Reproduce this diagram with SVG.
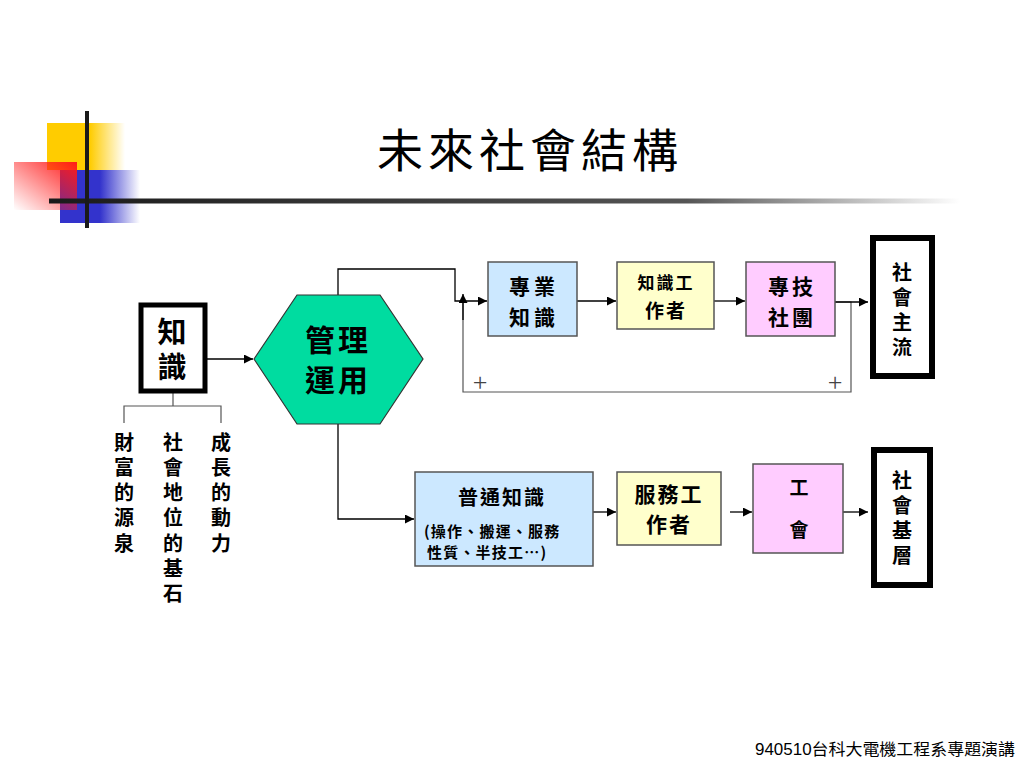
<svg xmlns="http://www.w3.org/2000/svg" width="1024" height="768" viewBox="0 0 1024 768">
<defs>
<linearGradient id="gy" x1="0" y1="0" x2="1" y2="0"><stop offset="0.55" stop-color="#FFCC00"/><stop offset="1" stop-color="#FFCC00" stop-opacity="0"/></linearGradient>
<linearGradient id="gb" x1="0" y1="0" x2="1" y2="0"><stop offset="0.5" stop-color="#3333CC"/><stop offset="1" stop-color="#3333CC" stop-opacity="0"/></linearGradient>
<linearGradient id="gr" x1="1" y1="0" x2="0" y2="1"><stop offset="0" stop-color="#FF1A1A"/><stop offset="1" stop-color="#FF1A1A" stop-opacity="0"/></linearGradient>
<linearGradient id="gl" x1="0" y1="0" x2="1" y2="0"><stop offset="0" stop-color="#1A1A1A"/><stop offset="0.7" stop-color="#555"/><stop offset="1" stop-color="#FFFFFF"/></linearGradient>
<marker id="ah" viewBox="0 0 10 10" refX="10" refY="5" markerWidth="9" markerHeight="9" markerUnits="userSpaceOnUse" orient="auto"><path d="M0,0 L10,5 L0,10 z" fill="#000"/></marker>
<style>
.cj{font-family:"Noto Sans CJK TC","Noto Sans CJK SC",sans-serif;font-weight:bold;fill:#000;text-anchor:middle}
.vt{font-family:"Noto Sans CJK TC","Noto Sans CJK SC",sans-serif;font-weight:bold;fill:#000;writing-mode:vertical-rl;text-anchor:start}
.box{stroke:#555;stroke-width:1.5}
.thick{fill:#fff;stroke:#000;stroke-width:6}
.ln{fill:none;stroke:#000;stroke-width:1.3}
.gl{fill:none;stroke:#555;stroke-width:1.2}
.plus{font-family:"Liberation Serif",serif;font-size:26px;text-anchor:middle;fill:#444}
</style>
</defs>
<rect width="1024" height="768" fill="#fff"/>
<g id="logo">
<rect x="47" y="123" width="78" height="47" fill="url(#gy)"/>
<rect x="60" y="170" width="80" height="53" fill="url(#gb)"/>
<rect x="14" y="162" width="63" height="48" fill="url(#gr)"/>
<rect x="49" y="198.5" width="911" height="5" fill="url(#gl)"/>
<rect x="85" y="111" width="4" height="117" fill="#1A1A1A"/>
</g>
<text id="title" x="530" y="167" font-family="Noto Sans CJK TC, sans-serif" font-size="46" letter-spacing="5" text-anchor="middle" fill="#000">未來社會結構</text>
<g id="connectors">
<line class="ln" x1="207" y1="359" x2="253" y2="359" marker-end="url(#ah)"/>
<path class="ln" d="M338,295 V269 H455 V301 H487" marker-end="url(#ah)"/>
<path class="gl" d="M835,302 H851 V392 H463 V302"/>
<line class="ln" x1="463" y1="320" x2="463" y2="294" marker-end="url(#ah)"/>
<line class="ln" x1="577" y1="301" x2="616" y2="301" marker-end="url(#ah)"/>
<line class="ln" x1="714" y1="301" x2="745" y2="301" marker-end="url(#ah)"/>
<line class="ln" x1="835" y1="302" x2="868" y2="302" marker-end="url(#ah)"/>
<path class="ln" d="M338,424 V519 H414" marker-end="url(#ah)"/>
<line class="ln" x1="593" y1="512" x2="616" y2="512" marker-end="url(#ah)"/>
<line class="ln" x1="730" y1="512" x2="752" y2="512" marker-end="url(#ah)"/>
<line class="ln" x1="843" y1="512" x2="868" y2="512" marker-end="url(#ah)"/>
<path class="gl" d="M173,393 V406 M124,423 V406 H221 V423"/>
<text class="plus" x="480" y="391">+</text>
<text class="plus" x="835" y="391">+</text>
</g>
<g id="n-knowledge">
<rect x="141" y="305" width="64" height="86" fill="#fff" stroke="#000" stroke-width="5"/>
<text class="vt" font-size="29" letter-spacing="6" x="172" y="317">知識</text>
</g>
<g id="n-attrs">
<text class="vt" font-size="20" letter-spacing="5.3" x="124" y="432">財富的源泉</text>
<text class="vt" font-size="20" letter-spacing="5.3" x="173" y="432">社會地位的基石</text>
<text class="vt" font-size="20" letter-spacing="5.3" x="221" y="432">成長的動力</text>
</g>
<g id="n-manage">
<polygon points="254,359 297,295 380,295 423,359 380,424 297,424" fill="#00DCA0" stroke="#333" stroke-width="1.2"/>
<text class="cj" font-size="30" letter-spacing="3"><tspan x="338" y="351">管理</tspan><tspan x="338" y="391">運用</tspan></text>
</g>
<g id="n-pro">
<rect class="box" x="488" y="262" width="89" height="74" fill="#CCE8FF"/>
<text class="cj" font-size="21" letter-spacing="4"><tspan x="534" y="294">專業</tspan><tspan x="534" y="325">知識</tspan></text>
</g>
<g id="n-kworker">
<rect class="box" x="617" y="262" width="97" height="67" fill="#FFFFCC"/>
<text class="cj" font-size="17" letter-spacing="2"><tspan x="666" y="289">知識工</tspan><tspan x="666" y="318" font-size="19">作者</tspan></text>
</g>
<g id="n-proassoc">
<rect class="box" x="746" y="262" width="89" height="74" fill="#FFCCFF"/>
<text class="cj" font-size="21" letter-spacing="3"><tspan x="792" y="294">專技</tspan><tspan x="792" y="325">社團</tspan></text>
</g>
<g id="n-mainstream">
<rect class="thick" x="873" y="238" width="59" height="138"/>
<text class="vt" font-size="20" letter-spacing="5.3" x="902" y="262">社會主流</text>
</g>
<g id="n-general">
<rect class="box" x="415" y="472" width="178" height="94" fill="#CCE8FF"/>
<text class="cj" font-size="20" letter-spacing="2" x="502" y="505">普通知識</text>
<text class="cj" font-size="15" style="text-anchor:start" letter-spacing="1.2"><tspan x="424" y="537">(操作、搬運、服務</tspan><tspan x="427" y="558">性質、半技工…)</tspan></text>
</g>
<g id="n-sworker">
<rect class="box" x="617" y="472" width="104" height="73" fill="#FFFFCC"/>
<text class="cj" font-size="21" letter-spacing="2"><tspan x="669" y="502">服務工</tspan><tspan x="669" y="532">作者</tspan></text>
</g>
<g id="n-union">
<rect class="box" x="753" y="464" width="90" height="89" fill="#FFCCFF"/>
<text class="vt" font-size="19" letter-spacing="23" x="799" y="478">工會</text>
</g>
<g id="n-base">
<rect class="thick" x="874" y="450" width="56" height="135"/>
<text class="vt" font-size="20" letter-spacing="5.3" x="902" y="470">社會基層</text>
</g>
<text id="footer" x="755" y="755" font-family="Liberation Sans, Noto Sans CJK TC, sans-serif" font-size="16" textLength="260" lengthAdjust="spacingAndGlyphs" fill="#000">940510台科大電機工程系專題演講</text>
</svg>
